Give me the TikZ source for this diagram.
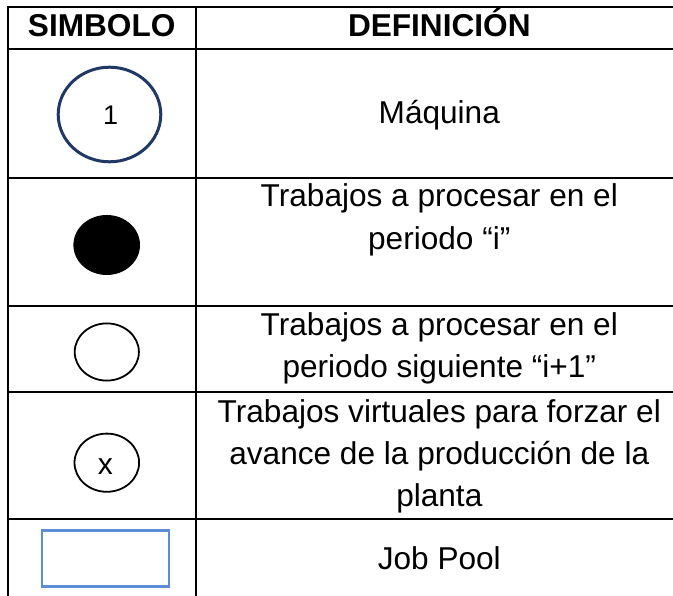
\documentclass[tikz,border=0pt]{standalone}
\usepackage{fontspec}
\setmainfont{Liberation Sans}
\usetikzlibrary{shapes.geometric}
\definecolor{navy}{HTML}{1F3864}
\definecolor{poolblue}{HTML}{5B8ED6}
\tikzset{
  grid/.style={line width=2pt, black},
  txt/.style={anchor=base, inner sep=0pt, font=\fontsize{31.6}{42}\selectfont},
  hdr/.style={anchor=base, inner sep=0pt, font=\fontsize{31.6}{42}\selectfont\bfseries},
  jobfill/.style={ellipse, draw=black, fill=black, line width=1.2pt, inner sep=0pt},
  jobopen/.style={ellipse, draw=black, line width=1.8pt, inner sep=0pt},
  machine/.style={ellipse, draw=navy, line width=3pt, inner sep=0pt},
  pool/.style={rectangle, draw=poolblue, line width=2.3pt, inner sep=0pt},
  sym/.style={anchor=base, inner sep=0pt, font=\fontsize{27}{30}\selectfont},
  symx/.style={anchor=base, inner sep=0pt, font=\fontsize{30}{32}\selectfont}
}
\begin{document}
\begin{tikzpicture}[x=1pt,y=-1pt]
\useasboundingbox (0,0) rectangle (673,596);
% table grid
\coordinate (tl) at (7.7,6.7);
\coordinate (bl) at (7.7,596);
\coordinate (tm) at (195.7,6.7);
\coordinate (bm) at (195.7,596);
\draw[grid] (tl) -- (bl);
\draw[grid] (tm) -- (bm);
\foreach \yy/\nm in {6.7/h0,49.3/h1,177.7/h2,305.7/h3,391.7/h4,519.3/h5}{
  \coordinate (\nm l) at (6.7,\yy);
  \coordinate (\nm r) at (673,\yy);
  \draw[grid] (\nm l) -- (\nm r);
}
% header
\node[hdr] (hsym) at (101.7,36.7) {SIMBOLO};
\node[hdr] (hdef) at (439.3,36.7) {DEFINICIÓN};
% row 1
\node[machine, minimum width=102.6pt, minimum height=94.6pt] (mach) at (109.5,114.5) {};
\node[sym] (one) at (110.7,125) {1};
\node[txt] (d1) at (439.3,123.3) {Máquina};
% row 2
\node[jobfill, minimum width=65.4pt, minimum height=58.8pt] (jf) at (106.7,245) {};
\node[txt] (d2a) at (439.3,206.7) {Trabajos a procesar en el};
\node[txt] (d2b) at (439.3,250) {periodo “i”};
% row 3
\node[jobopen, minimum width=64.2pt, minimum height=57.2pt] (jo) at (106.8,352) {};
\node[txt] (d3a) at (439.3,336) {Trabajos a procesar en el};
\node[txt] (d3b) at (439.3,377.7) {periodo siguiente “i+1”};
% row 4
\node[jobopen, minimum width=64.6pt, minimum height=58.2pt] (jx) at (106.8,462.7) {};
\node[symx] (xx) at (105.3,475) {x};
\node[txt] (d4a) at (439.3,422.7) {Trabajos virtuales para forzar el};
\node[txt] (d4b) at (439.3,464.3) {avance de la producción de la};
\node[txt] (d4c) at (439.3,506) {planta};
% row 5
\node[pool, minimum width=127pt, minimum height=56.1pt] (jp) at (105.35,558.5) {};
\node[txt] (d5) at (439.3,569.3) {Job Pool};
\end{tikzpicture}
\end{document}
